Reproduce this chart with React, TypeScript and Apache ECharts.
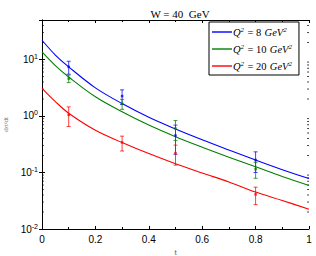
import React, { useEffect, useRef } from "react";
import * as echarts from "echarts";

const tCurve = [0, 0.05, 0.1, 0.2, 0.3, 0.4, 0.5, 0.6, 0.7, 0.8, 0.9, 1.0];
const curveQ8 = [21.9, 12.0, 7.4, 3.15, 1.66, 0.95, 0.59, 0.38, 0.25, 0.166, 0.112, 0.078];
const curveQ10 = [13.6, 7.8, 4.9, 2.19, 1.19, 0.69, 0.43, 0.28, 0.186, 0.126, 0.085, 0.059];
const curveQ20 = [3.09, 1.8, 1.12, 0.56, 0.34, 0.216, 0.143, 0.098, 0.068, 0.045, 0.032, 0.0224];

const tData = [0.1, 0.3, 0.5, 0.8];
const dataQ8 = [7.4, 2.25, 0.45, 0.166];
const errQ8 = [1.9, 0.65, 0.24, 0.066];
const dataQ10 = [4.6, 1.64, 0.6, 0.115];
const errQ10 = [0.7, 0.33, 0.23, 0.036];
const dataQ20 = [1.05, 0.34, 0.22, 0.041];
const errQ20 = [0.4, 0.1, 0.085, 0.014];

const seriesNames = ["Q8", "Q10", "Q20"];
const legendLabels: Record<string, string> = {
  Q8: "{i|Q}{s|2} {r|= 8} {i|GeV}{s|2}",
  Q10: "{i|Q}{s|2} {r|= 10} {i|GeV}{s|2}",
  Q20: "{i|Q}{s|2} {r|= 20} {i|GeV}{s|2}",
};
const colors = ["#0000ff", "#008000", "#ff0000"];

const yMin = 0.01;
const yMax = 50;
const minorTickValues: number[] = [];
for (let e = -2; e <= 1; e++) {
  for (let m = 2; m <= 9; m++) {
    const v = m * Math.pow(10, e);
    if (v < yMax) minorTickValues.push(v);
  }
}

export default function App() {
  const ref = useRef<HTMLDivElement>(null);
  useEffect(() => {
    if (!ref.current) return;
    const chart = echarts.init(ref.current, undefined, { renderer: "svg" });
    const curves = [curveQ8, curveQ10, curveQ20];
    const vals = [dataQ8, dataQ10, dataQ20];
    const errs = [errQ8, errQ10, errQ20];

    const lineSeries = curves.map((c, i) => ({
      name: seriesNames[i],
      type: "line",
      smooth: 0.35,
      symbol: "none",
      data: tCurve.map((t, k) => [t, c[k]]),
      lineStyle: { color: colors[i], width: 1.1 },
      itemStyle: { color: colors[i] },
      z: 2,
    }));

    const errSeries = vals.map((v, i) => ({
      name: seriesNames[i] + "_err",
      type: "custom",
      data: tData.map((t, k) => [t, v[k] - errs[i][k], v[k] + errs[i][k]]),
      encode: { x: 0, y: [1, 2] },
      renderItem: (params: any, api: any) => {
        const x = api.value(0);
        const lo = api.coord([x, api.value(1)]);
        const hi = api.coord([x, api.value(2)]);
        const w = 2;
        const style = { stroke: colors[i], lineWidth: 1, opacity: 0.75 };
        return {
          type: "group",
          children: [
            { type: "line", shape: { x1: lo[0], y1: lo[1], x2: hi[0], y2: hi[1] }, style },
            { type: "line", shape: { x1: lo[0] - w, y1: lo[1], x2: lo[0] + w, y2: lo[1] }, style },
            { type: "line", shape: { x1: hi[0] - w, y1: hi[1], x2: hi[0] + w, y2: hi[1] }, style },
          ],
        };
      },
      z: 3,
    }));

    const pointSeries = vals.map((v, i) => ({
      name: seriesNames[i] + "_pt",
      type: "scatter",
      symbol: "rect",
      symbolSize: 2.5,
      data: tData.map((t, k) => [t, v[k]]),
      itemStyle: { color: colors[i] },
      z: 4,
    }));

    const minorTicks = {
      name: "minorTicks",
      type: "custom",
      data: minorTickValues.map((v) => [0, v]),
      renderItem: (params: any, api: any) => {
        const v = api.value(1);
        const l = api.coord([0, v]);
        const r = api.coord([1, v]);
        const style = { stroke: "#000", lineWidth: 0.8 };
        return {
          type: "group",
          children: [
            { type: "line", shape: { x1: l[0], y1: l[1], x2: l[0] + 1.8, y2: l[1] }, style },
            { type: "line", shape: { x1: r[0], y1: r[1], x2: r[0] - 1.8, y2: r[1] }, style },
          ],
        };
      },
      silent: true,
      z: 1,
    };

    const tickLabelStyle = {
      color: "#000",
      fontFamily: "Liberation Sans, Arial, sans-serif",
      fontSize: 10,
    };

    chart.setOption({
      animation: false,
      backgroundColor: "#fff",
      title: {
        text: "W = 40  GeV",
        left: 175,
        textAlign: "center",
        top: 3,
        textStyle: {
          fontFamily: "Liberation Serif, DejaVu Serif, serif",
          fontWeight: "normal",
          fontSize: 11,
          color: "#000",
        },
      },
      grid: { left: 42, right: 7, top: 20, bottom: 27, containLabel: false, outerBoundsMode: "none" },
      legend: {
        data: seriesNames,
        orient: "vertical",
        left: 209,
        top: 22,
        padding: [4, 7, 3, 3],
        itemGap: 5,
        itemWidth: 20,
        itemHeight: 1.4,
        icon: "rect",
        backgroundColor: "#fff",
        borderColor: "#000",
        borderWidth: 1,
        formatter: (name: string) => legendLabels[name],
        textStyle: {
          padding: [0, 0, 0, -4],
          rich: {
            i: { fontFamily: "Liberation Serif, serif", fontStyle: "italic", fontSize: 10.5, color: "#000" },
            r: { fontFamily: "Liberation Serif, serif", fontSize: 10.5, color: "#000" },
            s: { fontFamily: "Liberation Serif, serif", fontStyle: "italic", fontSize: 7, color: "#000", verticalAlign: "top", padding: [0, 0, 5, 0] },
          },
        },
      },
      xAxis: [
        {
          type: "value",
          min: 0,
          max: 1,
          interval: 0.2,
          name: "t",
          nameLocation: "middle",
          nameGap: 16,
          nameTextStyle: { color: "#666", fontSize: 8, fontFamily: "Liberation Sans, sans-serif" },
          axisLine: { show: true, lineStyle: { color: "#000", width: 1 } },
          axisTick: { show: true, inside: true, length: 3, lineStyle: { color: "#000" } },
          minorTick: { show: true, splitNumber: 2, length: 2, lineStyle: { color: "#000" } },
          splitLine: { show: false },
          axisLabel: {
            ...tickLabelStyle,
            margin: 5,
            formatter: (v: number) => String(Math.round(v * 10) / 10),
          },
        },
        {
          type: "value",
          position: "top",
          min: 0,
          max: 1,
          interval: 0.2,
          axisLine: { show: true, lineStyle: { color: "#000", width: 1 } },
          axisTick: { show: true, inside: true, length: 3, lineStyle: { color: "#000" } },
          minorTick: { show: true, splitNumber: 2, length: 2, lineStyle: { color: "#000" } },
          splitLine: { show: false },
          axisLabel: { show: false },
        },
      ],
      yAxis: [
        {
          type: "log",
          logBase: 10,
          min: yMin,
          max: yMax,
          name: "dσ/dt",
          nameLocation: "middle",
          nameGap: 27,
          nameRotate: 90,
          nameTextStyle: { color: "#666", fontSize: 7, fontFamily: "Liberation Serif, serif" },
          axisLine: { show: true, lineStyle: { color: "#000", width: 1 } },
          axisTick: { show: true, inside: true, length: 3, lineStyle: { color: "#000" } },
          splitLine: { show: false },
          axisLabel: {
            ...tickLabelStyle,
            margin: 4,
            showMaxLabel: false,
            formatter: (v: number) => {
              const e = Math.round(Math.log10(v));
              if (Math.abs(v - Math.pow(10, e)) > 1e-6 * v) return "";
              return "10{s|" + (e < 0 ? "-" : "") + Math.abs(e) + "}";
            },
            rich: {
              s: { fontSize: 7, verticalAlign: "top", padding: [0, 0, 6, 0], color: "#000", fontFamily: "Liberation Sans, sans-serif" },
            },
          },
        },
        {
          type: "log",
          logBase: 10,
          min: yMin,
          max: yMax,
          position: "right",
          axisLine: { show: true, lineStyle: { color: "#000", width: 1 } },
          axisTick: { show: true, inside: true, length: 3, lineStyle: { color: "#000" } },
          splitLine: { show: false },
          axisLabel: { show: false },
        },
      ],
      series: [minorTicks, ...lineSeries, ...errSeries, ...pointSeries],
    });
    return () => chart.dispose();
  }, []);
  return (
    <div
      ref={ref}
      style={{ position: "fixed", left: 0, top: 0, width: 316, height: 256 }}
    />
  );
}
